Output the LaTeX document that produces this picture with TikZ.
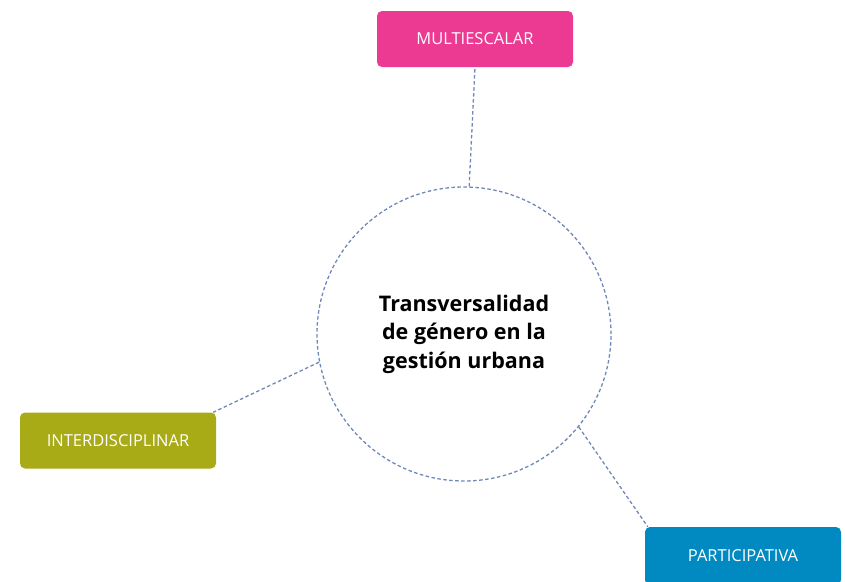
\documentclass[tikz,border=0pt]{standalone}
\usepackage{fontspec}
\setmainfont{Open Sans}
\definecolor{cpink}{HTML}{EC3A93}
\definecolor{colive}{HTML}{A8AA16}
\definecolor{cblue}{HTML}{0189C2}
\definecolor{cdash}{HTML}{6F88B8}
\begin{document}
\begin{tikzpicture}[x=1pt,y=-1pt,
  tag/.style={rectangle, rounded corners=5pt, minimum width=196pt, minimum height=56pt, inner sep=0pt, text=white, font=\fontsize{16.5}{19}\selectfont},
  link/.style={draw=cdash, line width=1.3pt, dash pattern=on 3.5pt off 2.5pt},
  hub/.style={circle, minimum size=294pt, inner sep=0pt, font=\bfseries\fontsize{21.5}{28.5}\selectfont, align=center}]
\useasboundingbox (0,0) rectangle (845,581);
\node[hub, link] (c) at (464,334) {Transversalidad\\de género en la\\gestión urbana};
\node[tag, fill=cpink] (m) at (475,39) {MULTIESCALAR};
\node[tag, fill=colive] (i) at (118,440.5) {INTERDISCIPLINAR};
\node[tag, fill=cblue, minimum height=58pt] (p) at (743,556) {PARTICIPATIVA};
\draw[link] (c.88) -- (m.south);
\draw[link] (c.191) -- ([xshift=-3pt]i.north east);
\draw[link] (c.-39) -- ([xshift=3pt]p.north west);
\end{tikzpicture}
\end{document}
